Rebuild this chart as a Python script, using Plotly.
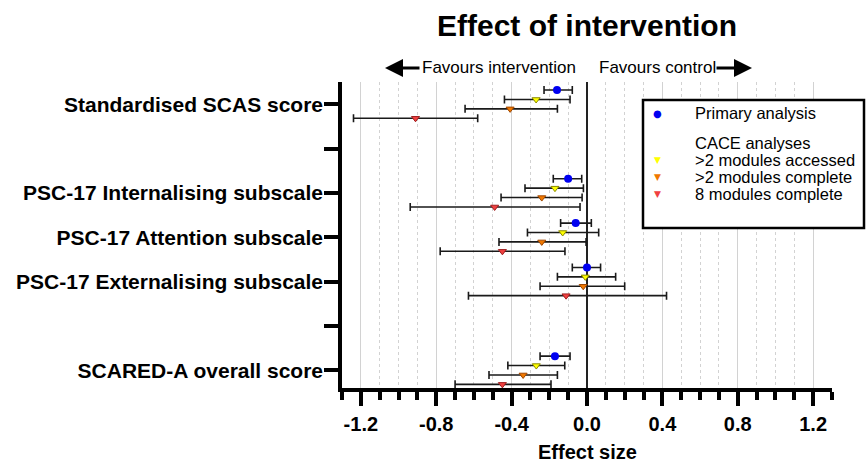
import numpy as np
import plotly.graph_objects as go

# ---- data ----
outcomes = ["Standardised SCAS score", "PSC-17 Internalising subscale",
            "PSC-17 Attention subscale", "PSC-17 Externalising subscale",
            "SCARED-A overall score"]
outcome_pos = [0, 2, 3, 4, 6]          # category slots (1 and 5 are empty spacers)

primary_est = [-0.159, -0.100, -0.060, 0.000, -0.170]
primary_lo  = [-0.228, -0.179, -0.140, -0.078, -0.249]
primary_hi  = [-0.078, -0.028, 0.023, 0.072, -0.090]

acc_est = [-0.270, -0.170, -0.129, -0.009, -0.269]
acc_lo  = [-0.438, -0.329, -0.316, -0.157, -0.420]
acc_hi  = [-0.090, -0.019, 0.062, 0.152, -0.118]

comp_est = [-0.408, -0.240, -0.240, -0.020, -0.339]
comp_lo  = [-0.647, -0.456, -0.467, -0.249, -0.520]
comp_hi  = [-0.157, -0.026, -0.005, 0.200, -0.157]

eight_est = [-0.910, -0.490, -0.449, -0.111, -0.449]
eight_lo  = [-1.239, -0.938, -0.779, -0.629, -0.700]
eight_hi  = [-0.580, -0.037, -0.117, 0.422, -0.191]

series_names = ["Primary analysis", ">2 modules accessed", ">2 modules complete", "8 modules complete"]
legend_header = "CACE analyses"
x_ticks = [-1.2, -0.8, -0.4, 0.0, 0.4, 0.8, 1.2]
x_ticklabels = ["-1.2", "-0.8", "-0.4", "0.0", "0.4", "0.8", "1.2"]

# ---- styles ----
FONT = "Arial, Liberation Sans, sans-serif"
colors = ["#0000F0", "#FFFF00", "#F07800", "#F04040"]
edges = ["#0000F0", "#8C8C00", "#A04800", "#A02020"]
symbols = ["circle", "triangle-down", "triangle-down", "triangle-down"]
sizes = [8, 7, 7, 7]
row_offset = [-1.5, -0.5, 0.5, 1.5]
row_step = 0.212

L, R, T, B = 342, 35, 82, 75
W, H = 867, 463
PW, PH = W - L - R, H - T - B
def px_x(p):  # pixel -> paper x
    return (p - L) / PW
def px_y(p):  # pixel -> paper y
    return (H - B - p) / PH

fig = go.Figure()
all_series = [(primary_est, primary_lo, primary_hi),
              (acc_est, acc_lo, acc_hi),
              (comp_est, comp_lo, comp_hi),
              (eight_est, eight_lo, eight_hi)]

for i, (est, lo, hi) in enumerate(all_series):
    est = np.array(est); lo = np.array(lo); hi = np.array(hi)
    y = np.array(outcome_pos) + row_offset[i] * row_step
    fig.add_trace(go.Scatter(
        x=est, y=y, mode="markers", showlegend=False, name=series_names[i],
        marker=dict(symbol=symbols[i], color=colors[i], size=sizes[i],
                    line=dict(width=1 if i else 0, color=edges[i])),
        error_x=dict(type="data", symmetric=False, array=hi - est, arrayminus=est - lo,
                     color="#1a1a1a", thickness=1.6, width=4),
    ))

fig.update_layout(
    width=W, height=H,
    margin=dict(l=L, r=R, t=T, b=B),
    paper_bgcolor="white", plot_bgcolor="white",
    font=dict(family=FONT, color="black"),
    showlegend=False,
    xaxis=dict(range=[-1.3, 1.3], tickvals=x_ticks, ticktext=x_ticklabels, automargin=False,
               showline=True, linecolor="black", linewidth=3.5,
               ticks="outside", ticklen=14, tickwidth=3.5, tickcolor="black",
               ticklabelstandoff=1,
               tickfont=dict(size=20, family=FONT, weight="bold"),
               showgrid=True, gridcolor="#d2d2d2", gridwidth=1,
               zeroline=True, zerolinecolor="#222222", zerolinewidth=1.8,
               minor=dict(dtick=0.1, tick0=0, ticks="outside", ticklen=8, tickwidth=3.5,
                          tickcolor="black", showgrid=True, gridcolor="#d2d2d2",
                          griddash="3px,3px", gridwidth=1)),
    yaxis=dict(range=[6.4, -0.5], tickvals=[0, 1, 2, 3, 4, 5, 6], automargin=False,
               ticktext=[outcomes[0], "", outcomes[1], outcomes[2], outcomes[3], "", outcomes[4]],
               showline=True, linecolor="black", linewidth=3.5,
               ticks="outside", ticklen=14, tickwidth=3.5, tickcolor="black",
               ticklabelstandoff=-3,
               tickfont=dict(size=21, family=FONT, weight="bold"),
               showgrid=False, zeroline=False),
)

# titles
fig.add_annotation(text="<b>Effect of intervention</b>", x=0, xref="x", y=px_y(25), yref="paper",
                   showarrow=False, font=dict(size=30, family=FONT), xanchor="center", yanchor="middle")
fig.add_annotation(text="<b>Effect size</b>", x=0, xref="x", y=px_y(452), yref="paper",
                   showarrow=False, font=dict(size=20, family=FONT), xanchor="center", yanchor="middle")
fig.add_annotation(text="Favours intervention", x=px_x(578), xref="paper", y=px_y(68), yref="paper",
                   showarrow=False, font=dict(size=17, family=FONT), xanchor="right", yanchor="middle")
fig.add_annotation(text="Favours control", x=px_x(597), xref="paper", y=px_y(68), yref="paper",
                   showarrow=False, font=dict(size=17, family=FONT), xanchor="left", yanchor="middle")
fig.add_annotation(text="", x=px_x(385), y=px_y(68), xref="paper", yref="paper",
                   ax=36, ay=0, axref="pixel", ayref="pixel",
                   showarrow=True, arrowhead=2, arrowsize=1.2, arrowwidth=3, arrowcolor="black")
fig.add_annotation(text="", x=px_x(752), y=px_y(68), xref="paper", yref="paper",
                   ax=-37, ay=0, axref="pixel", ayref="pixel",
                   showarrow=True, arrowhead=2, arrowsize=1.2, arrowwidth=3, arrowcolor="black")

# legend box (drawn manually to match the reference spacing)
fig.add_shape(type="rect", xref="paper", yref="paper",
              x0=px_x(643), x1=px_x(864), y0=px_y(228), y1=px_y(100),
              line=dict(color="black", width=2.5), fillcolor="white", layer="above")
legend_rows = [(series_names[0], 113, 0), (legend_header, 143, None),
               (series_names[1], 160, 1), (series_names[2], 177, 2), (series_names[3], 194, 3)]
for label, py, si in legend_rows:
    fig.add_annotation(text=label, x=px_x(693), y=px_y(py), xref="paper", yref="paper",
                       showarrow=False, xanchor="left", yanchor="middle",
                       font=dict(size=16.5, family=FONT, color="black"))
    if si is not None:
        glyph = "●" if si == 0 else "▼"
        fig.add_annotation(text=glyph, x=px_x(657), y=px_y(py), xref="paper", yref="paper",
                           showarrow=False, xanchor="center", yanchor="middle",
                           font=dict(size=10 if si == 0 else 9, family="DejaVu Sans",
                                     color=colors[si]))

fig.write_html("out.html", config={"displayModeBar": False},
               post_script="document.body.style.margin='0';document.body.style.overflow='hidden';")
